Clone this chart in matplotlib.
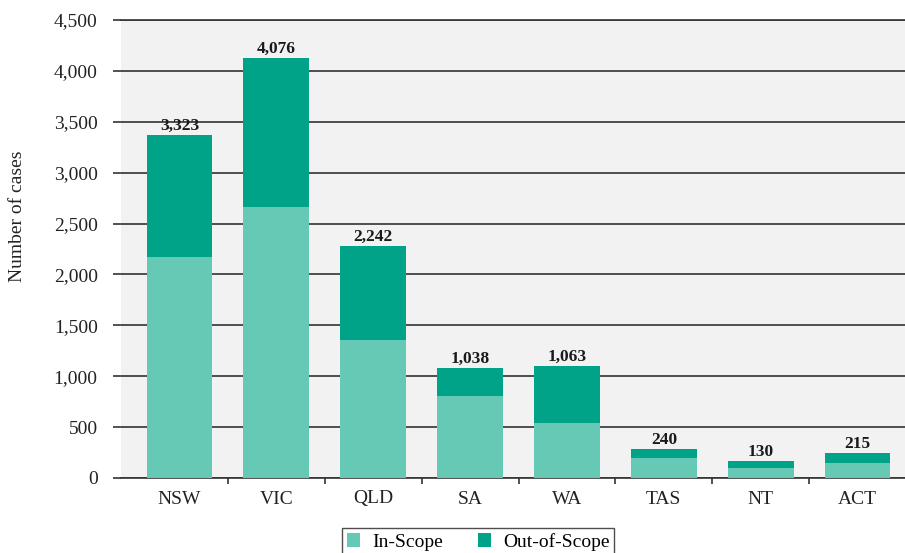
import matplotlib.pyplot as plt
import numpy as np

plt.rcParams['font.family'] = ['Liberation Serif', 'DejaVu Serif']

# data
states = ["NSW", "VIC", "QLD", "SA", "WA", "TAS", "NT", "ACT"]
in_scope = [2171, 2663, 1356, 806, 540, 196, 98, 147]
out_scope = [1199, 1464, 923, 275, 560, 89, 69, 99]
total_labels = ["3,323", "4,076", "2,242", "1,038", "1,063", "240", "130", "215"]
yticks = [0, 500, 1000, 1500, 2000, 2500, 3000, 3500, 4000, 4500]

c_in = '#66c9b5'
c_out = '#00a387'
line_c = '#333333'

fig = plt.figure(figsize=(9.05, 5.53), dpi=100)
ax = fig.add_axes([121 / 905, 1 - 478 / 553, 1 - 121 / 905, (478 - 20) / 553])
ax.set_facecolor('#f2f2f2')

x = np.arange(len(states))
ax.bar(x, in_scope, width=0.68, color=c_in, label='In-Scope', zorder=3)
ax.bar(x, out_scope, width=0.68, bottom=in_scope, color=c_out, label='Out-of-Scope', zorder=3)

tops = np.array(in_scope) + np.array(out_scope)
for xi, top, lab in zip(x, tops, total_labels):
    ax.annotate(lab, (xi, top), xytext=(0, 0.5), textcoords='offset points',
                ha='center', va='bottom', fontsize=12.5, fontweight='bold', color='#1a1a1a')

ax.set_xlim(-0.604, 7.49)
ax.set_ylim(0, 4500)

# y axis: gridlines with short ticks sticking out on the left
ax.set_yticks(yticks)
ax.set_yticklabels([f"{v:,}" for v in yticks], fontsize=14, color='#222222')
ax.yaxis.grid(True, color=line_c, lw=1.2, zorder=1)
ax.set_axisbelow(True)
ax.tick_params(axis='y', length=5.8, width=1.2, color=line_c, pad=11)

# x axis: labels at centres, small ticks between categories
ax.set_xticks(x)
ax.set_xticklabels(states, fontsize=14, color='#222222')
ax.tick_params(axis='x', which='major', length=0, pad=9)
ax.set_xticks(x[:-1] + 0.5, minor=True)
ax.tick_params(axis='x', which='minor', length=4, width=1.2, color=line_c)

for s in ['left', 'right']:
    ax.spines[s].set_visible(False)
for s in ['top', 'bottom']:
    ax.spines[s].set_color(line_c)
    ax.spines[s].set_linewidth(1.2)

fig.text(18 / 905, 1 - 216 / 553, "Number of cases", rotation=90,
         ha='center', va='center', fontsize=14, color='#222222')

leg = fig.legend(loc='upper center', bbox_to_anchor=(478 / 905, 1 - 528 / 553), ncol=2,
                 fontsize=14, frameon=True, fancybox=False, edgecolor='#222222',
                 handlelength=0.7, handleheight=0.7, columnspacing=1.8, handletextpad=0.6,
                 borderpad=0.25, borderaxespad=0)
leg.get_frame().set_linewidth(1.0)

fig.savefig('out.png', dpi=100)
